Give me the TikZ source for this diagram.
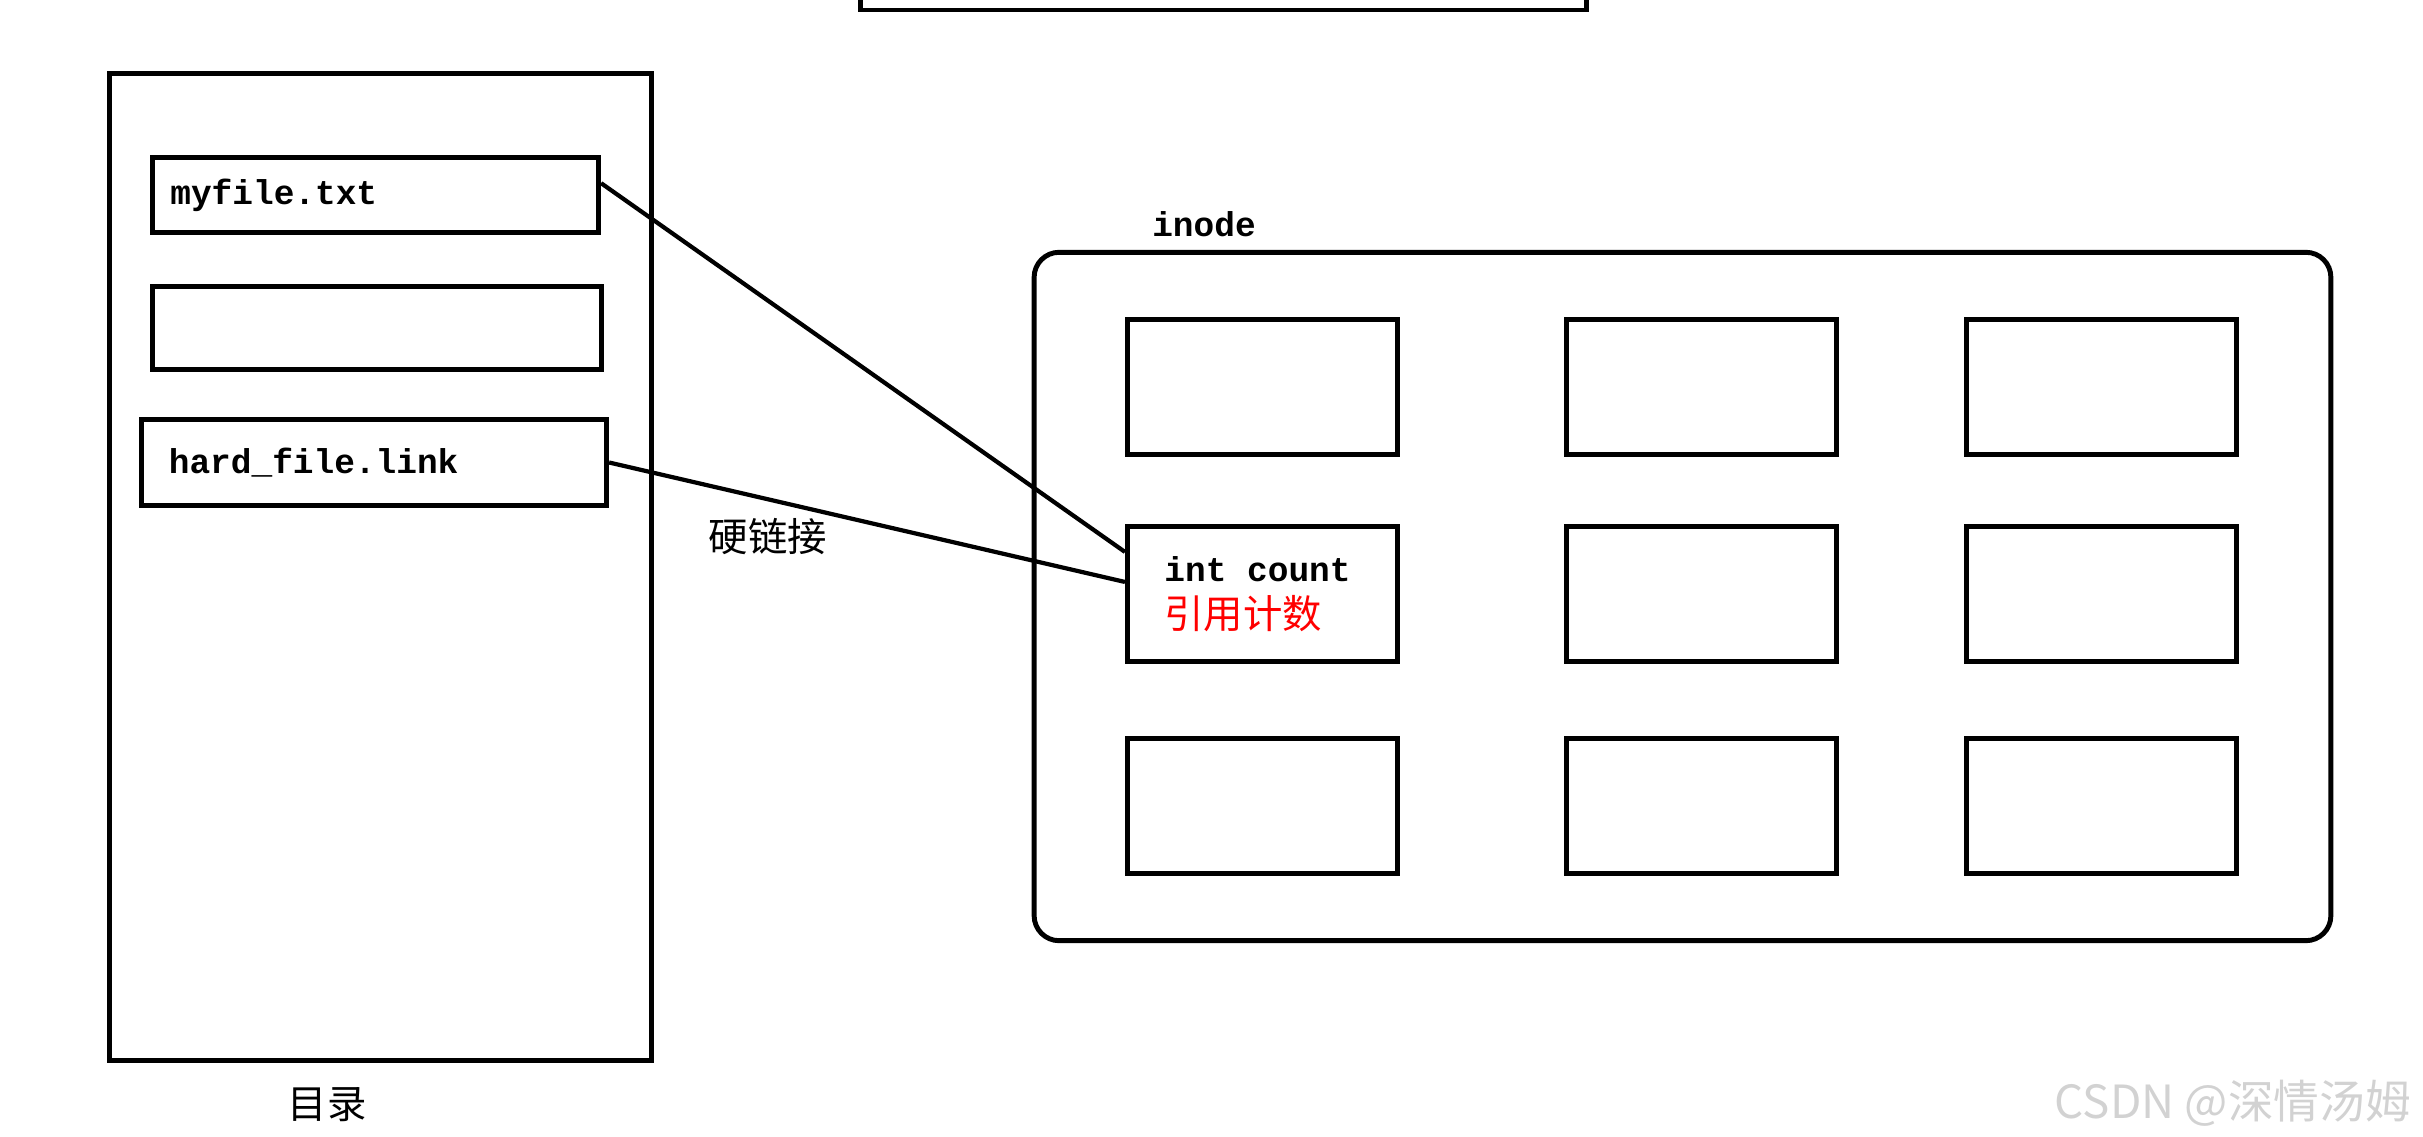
\documentclass[tikz,border=0pt]{standalone}
\usepackage{fontspec}
\setmonofont{Liberation Mono}
\newfontfamily\cjk{Noto Sans CJK SC}

\tikzstyle{holder} = [rectangle, draw, line width=1.4pt, inner sep=0pt]
\tikzstyle{entry} = [rectangle, draw, line width=1.4pt, text width=4.1cm, align=left, 
inner ysep=0pt, font=\ttfamily\bfseries\fontsize{9.8}{12}\selectfont]
\tikzstyle{cell} = [rectangle, draw, line width=1.4pt, minimum width=2.7cm, minimum height=1.35cm]
\tikzstyle{monolabel} = [inner sep=0pt, font=\ttfamily\bfseries\fontsize{9.8}{12}\selectfont]
\tikzstyle{cjklabel} = [inner sep=0pt, font=\cjk\fontsize{11.2}{13}\selectfont]
\tikzstyle{watermark} = [inner sep=0pt, text=gray!35, font=\cjk\fontsize{13}{15}\selectfont]
\tikzstyle{link} = [line width=1.2pt, draw]

\begin{document}
\begin{tikzpicture}[x=0.01cm, y=-0.01cm]
\useasboundingbox (0,0) rectangle (2423,1137);

	%Box cut off at the top edge
	\node[holder, minimum width=7.26cm, minimum height=0.7cm](upper) at (1223.5,-25) {};

	%Directory with its entries
	\node[holder, minimum width=5.42cm, minimum height=9.87cm](dir) at (380.5,567) {};
	\node[cjklabel](dir_name) at (327,1105) {目录};
	\node[entry, minimum width=4.46cm, minimum height=0.75cm, inner xsep=0.18cm](myfile) at (375.5,195) {myfile.txt};
	\node[entry, minimum width=4.49cm, minimum height=0.83cm, inner xsep=0.18cm](spare) at (377,328) {};
	\node[entry, minimum width=4.65cm, minimum height=0.86cm, inner xsep=0.27cm](hardfile) at (374,462.5) {hard\_file.link};

	%inode table
	\node[holder, rounded corners=0.25cm, minimum width=12.96cm, minimum height=6.88cm](inode) at (1682.5,596.5) {};
	\node[monolabel](inode_name) at (1204,224) {inode};

	\node[cell](A1) at (1262.5,387) {};
	\node[cell](B1) at (1701.5,387) {};
	\node[cell](C1) at (2101.5,387) {};
	\node[cell, text width=1.96cm, align=left, inner xsep=0.37cm, 
	font=\ttfamily\bfseries\fontsize{9.8}{13.4}\selectfont](count) at (1262.5,594) 
	{int\hspace{0.6em}count\\{\cjk\mdseries\fontsize{11.2}{13.4}\selectfont\color{red}引用计数}};
	\node[cell](B2) at (1701.5,594) {};
	\node[cell](C2) at (2101.5,594) {};
	\node[cell](A3) at (1262.5,806) {};
	\node[cell](B3) at (1701.5,806) {};
	\node[cell](C3) at (2101.5,806) {};

	%Links from the entries to the inode
	\path[link] (myfile.3) -- (count.163);
	\path[link] (hardfile.east) -- (count.175);
	\node[cjklabel](hardlink) at (768,537) {硬链接};

	\node[watermark](csdn) at (2233,1103) {CSDN @深情汤姆};
\end{tikzpicture}
\end{document}
